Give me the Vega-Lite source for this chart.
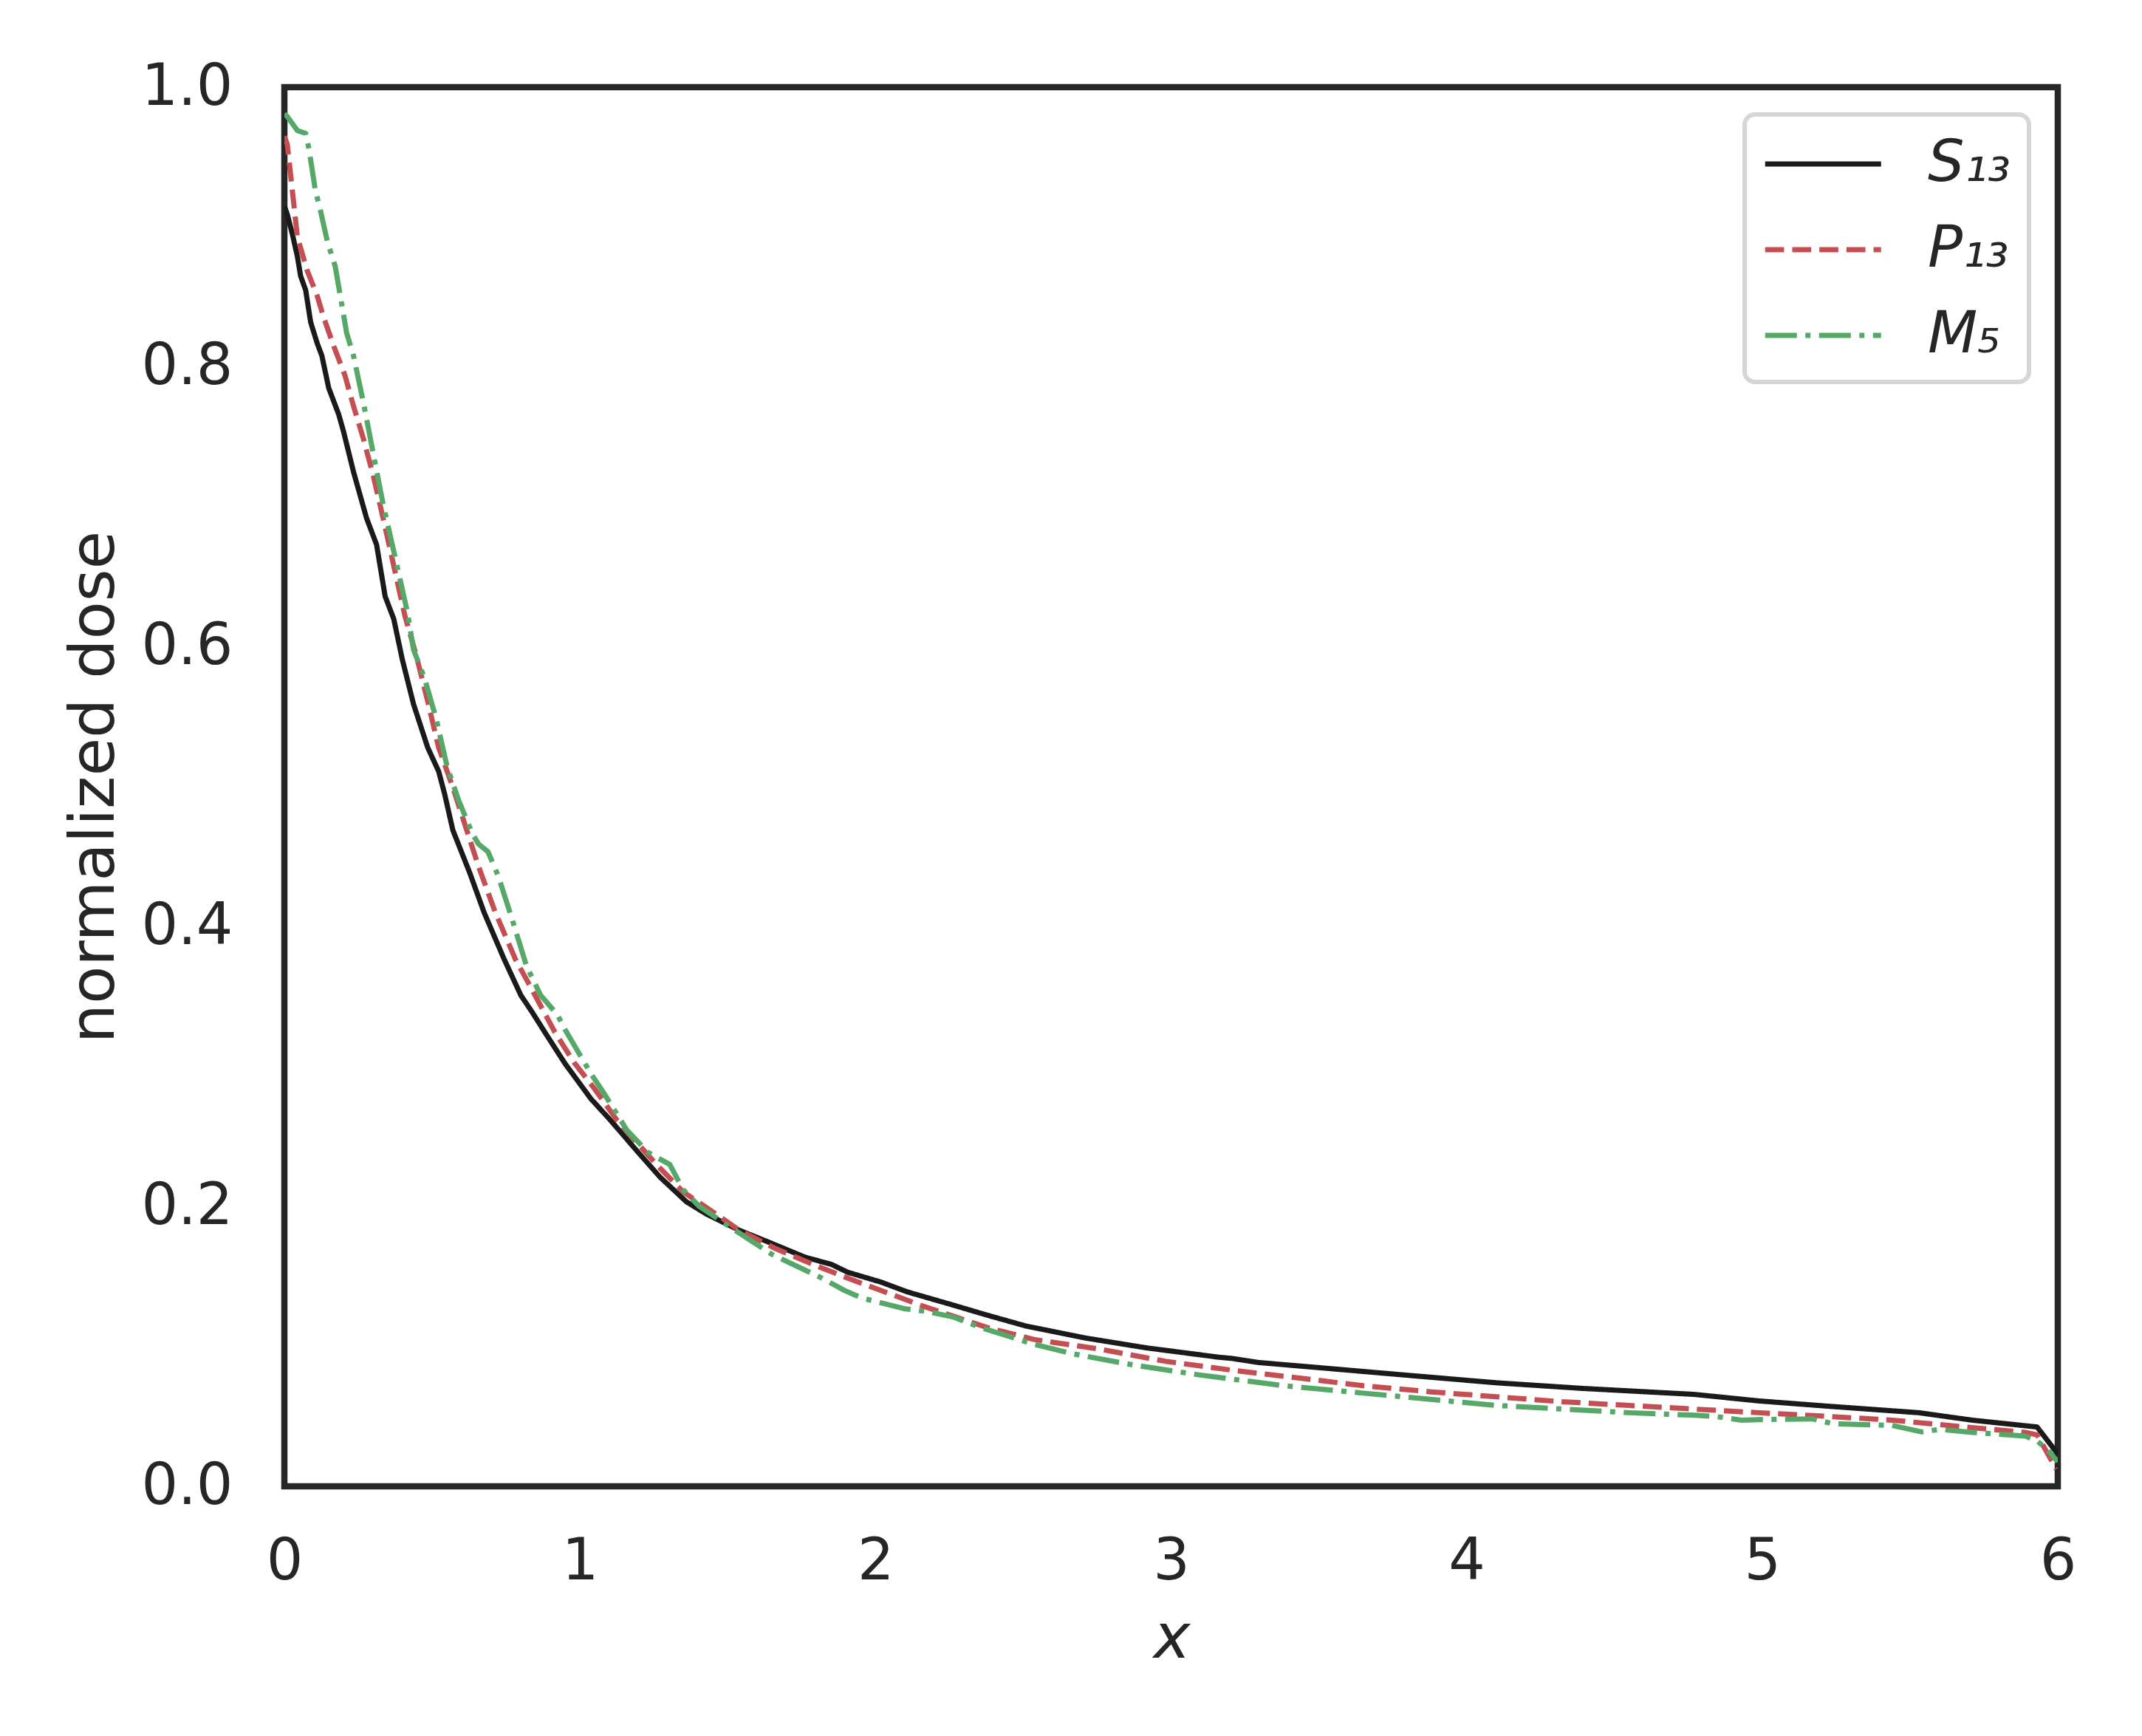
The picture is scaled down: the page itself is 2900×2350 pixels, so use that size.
{
  "$schema": "https://vega.github.io/schema/vega-lite/v6.json",
  "autosize": {"type": "none"},
  "padding": {"left": 385, "top": 118, "right": 114, "bottom": 338},
  "width": 2401,
  "height": 1894,
  "background": "white",
  "config": {
    "font": "DejaVu Sans",
    "view": {"stroke": "#262626", "strokeWidth": 8.5},
    "axis": {
      "grid": false, "ticks": false, "tickSize": 0, "domain": false,
      "labelColor": "#262626", "labelFont": "DejaVu Sans", "labelFontSize": 78,
      "titleColor": "#262626", "titleFont": "DejaVu Sans", "titleFontSize": 84, "titleFontWeight": "normal",
      "labelFlush": false, "labelOverlap": false
    },
    "legend": {
      "strokeColor": "#d6d6d6", "strokeWidth": 6, "cornerRadius": 14, "fillColor": "white"
    }
  },
  "data": {"values": [
    {"s":"S₁₃","x":0.0,"y":0.915},{"s":"S₁₃","x":0.01,"y":0.909},{"s":"S₁₃","x":0.027,"y":0.895},{"s":"S₁₃","x":0.044,"y":0.879},{"s":"S₁₃","x":0.055,"y":0.865},{"s":"S₁₃","x":0.072,"y":0.855},{"s":"S₁₃","x":0.089,"y":0.832},{"s":"S₁₃","x":0.111,"y":0.817},{"s":"S₁₃","x":0.127,"y":0.808},{"s":"S₁₃","x":0.15,"y":0.785},{"s":"S₁₃","x":0.184,"y":0.766},{"s":"S₁₃","x":0.2,"y":0.754},{"s":"S₁₃","x":0.234,"y":0.725},{"s":"S₁₃","x":0.278,"y":0.692},{"s":"S₁₃","x":0.312,"y":0.673},{"s":"S₁₃","x":0.341,"y":0.636},{"s":"S₁₃","x":0.37,"y":0.62},{"s":"S₁₃","x":0.399,"y":0.591},{"s":"S₁₃","x":0.437,"y":0.559},{"s":"S₁₃","x":0.485,"y":0.528},{"s":"S₁₃","x":0.522,"y":0.511},{"s":"S₁₃","x":0.542,"y":0.495},{"s":"S₁₃","x":0.57,"y":0.469},{"s":"S₁₃","x":0.628,"y":0.438},{"s":"S₁₃","x":0.676,"y":0.41},{"s":"S₁₃","x":0.743,"y":0.377},{"s":"S₁₃","x":0.8,"y":0.351},{"s":"S₁₃","x":0.838,"y":0.339},{"s":"S₁₃","x":0.886,"y":0.323},{"s":"S₁₃","x":0.95,"y":0.302},{"s":"S₁₃","x":1.037,"y":0.277},{"s":"S₁₃","x":1.104,"y":0.2615},{"s":"S₁₃","x":1.204,"y":0.237},{"s":"S₁₃","x":1.271,"y":0.221},{"s":"S₁₃","x":1.36,"y":0.2034},{"s":"S₁₃","x":1.427,"y":0.1947},{"s":"S₁₃","x":1.539,"y":0.183},{"s":"S₁₃","x":1.65,"y":0.1735},{"s":"S₁₃","x":1.761,"y":0.1638},{"s":"S₁₃","x":1.851,"y":0.1586},{"s":"S₁₃","x":1.906,"y":0.153},{"s":"S₁₃","x":2.018,"y":0.146},{"s":"S₁₃","x":2.107,"y":0.139},{"s":"S₁₃","x":2.263,"y":0.1295},{"s":"S₁₃","x":2.375,"y":0.1225},{"s":"S₁₃","x":2.508,"y":0.1146},{"s":"S₁₃","x":2.71,"y":0.106},{"s":"S₁₃","x":2.915,"y":0.099},{"s":"S₁₃","x":3.16,"y":0.0923},{"s":"S₁₃","x":3.206,"y":0.0914},{"s":"S₁₃","x":3.295,"y":0.0885},{"s":"S₁₃","x":3.54,"y":0.0841},{"s":"S₁₃","x":3.765,"y":0.08},{"s":"S₁₃","x":4.1,"y":0.074},{"s":"S₁₃","x":4.39,"y":0.07},{"s":"S₁₃","x":4.77,"y":0.0657},{"s":"S₁₃","x":4.99,"y":0.061},{"s":"S₁₃","x":5.22,"y":0.0573},{"s":"S₁₃","x":5.53,"y":0.0526},{"s":"S₁₃","x":5.71,"y":0.0473},{"s":"S₁₃","x":5.93,"y":0.0424},{"s":"S₁₃","x":5.995,"y":0.0245},{"s":"S₁₃","x":6.0,"y":0.022},
    {"s":"P₁₃","x":0.0,"y":0.965},{"s":"P₁₃","x":0.01,"y":0.959},{"s":"P₁₃","x":0.027,"y":0.926},{"s":"P₁₃","x":0.044,"y":0.893},{"s":"P₁₃","x":0.077,"y":0.869},{"s":"P₁₃","x":0.111,"y":0.851},{"s":"P₁₃","x":0.132,"y":0.836},{"s":"P₁₃","x":0.167,"y":0.815},{"s":"P₁₃","x":0.205,"y":0.794},{"s":"P₁₃","x":0.234,"y":0.772},{"s":"P₁₃","x":0.267,"y":0.749},{"s":"P₁₃","x":0.3,"y":0.723},{"s":"P₁₃","x":0.334,"y":0.692},{"s":"P₁₃","x":0.37,"y":0.658},{"s":"P₁₃","x":0.408,"y":0.622},{"s":"P₁₃","x":0.446,"y":0.594},{"s":"P₁₃","x":0.485,"y":0.561},{"s":"P₁₃","x":0.522,"y":0.528},{"s":"P₁₃","x":0.57,"y":0.4995},{"s":"P₁₃","x":0.6,"y":0.48},{"s":"P₁₃","x":0.657,"y":0.443},{"s":"P₁₃","x":0.714,"y":0.41},{"s":"P₁₃","x":0.781,"y":0.377},{"s":"P₁₃","x":0.848,"y":0.351},{"s":"P₁₃","x":0.914,"y":0.325},{"s":"P₁₃","x":0.98,"y":0.303},{"s":"P₁₃","x":1.048,"y":0.2845},{"s":"P₁₃","x":1.126,"y":0.2615},{"s":"P₁₃","x":1.259,"y":0.23},{"s":"P₁₃","x":1.349,"y":0.2105},{"s":"P₁₃","x":1.46,"y":0.1947},{"s":"P₁₃","x":1.539,"y":0.183},{"s":"P₁₃","x":1.661,"y":0.17},{"s":"P₁₃","x":1.795,"y":0.158},{"s":"P₁₃","x":1.928,"y":0.147},{"s":"P₁₃","x":2.04,"y":0.1383},{"s":"P₁₃","x":2.151,"y":0.1295},{"s":"P₁₃","x":2.263,"y":0.1216},{"s":"P₁₃","x":2.375,"y":0.1137},{"s":"P₁₃","x":2.535,"y":0.105},{"s":"P₁₃","x":2.76,"y":0.098},{"s":"P₁₃","x":2.98,"y":0.0894},{"s":"P₁₃","x":3.206,"y":0.083},{"s":"P₁₃","x":3.43,"y":0.0775},{"s":"P₁₃","x":3.65,"y":0.0719},{"s":"P₁₃","x":3.88,"y":0.0675},{"s":"P₁₃","x":4.1,"y":0.064},{"s":"P₁₃","x":4.32,"y":0.0605},{"s":"P₁₃","x":4.55,"y":0.0578},{"s":"P₁₃","x":4.77,"y":0.0552},{"s":"P₁₃","x":4.99,"y":0.0526},{"s":"P₁₃","x":5.22,"y":0.05},{"s":"P₁₃","x":5.44,"y":0.0473},{"s":"P₁₃","x":5.66,"y":0.0429},{"s":"P₁₃","x":5.89,"y":0.0386},{"s":"P₁₃","x":5.93,"y":0.0368},{"s":"P₁₃","x":5.995,"y":0.0123},
    {"s":"M₅","x":0.0,"y":0.981},{"s":"M₅","x":0.01,"y":0.979},{"s":"M₅","x":0.044,"y":0.969},{"s":"M₅","x":0.072,"y":0.967},{"s":"M₅","x":0.083,"y":0.956},{"s":"M₅","x":0.105,"y":0.926},{"s":"M₅","x":0.122,"y":0.912},{"s":"M₅","x":0.145,"y":0.89},{"s":"M₅","x":0.172,"y":0.872},{"s":"M₅","x":0.189,"y":0.851},{"s":"M₅","x":0.211,"y":0.824},{"s":"M₅","x":0.234,"y":0.808},{"s":"M₅","x":0.267,"y":0.775},{"s":"M₅","x":0.3,"y":0.739},{"s":"M₅","x":0.334,"y":0.702},{"s":"M₅","x":0.379,"y":0.66},{"s":"M₅","x":0.417,"y":0.624},{"s":"M₅","x":0.437,"y":0.598},{"s":"M₅","x":0.475,"y":0.577},{"s":"M₅","x":0.513,"y":0.549},{"s":"M₅","x":0.551,"y":0.514},{"s":"M₅","x":0.59,"y":0.49},{"s":"M₅","x":0.637,"y":0.466},{"s":"M₅","x":0.657,"y":0.459},{"s":"M₅","x":0.689,"y":0.4535},{"s":"M₅","x":0.724,"y":0.436},{"s":"M₅","x":0.771,"y":0.405},{"s":"M₅","x":0.819,"y":0.372},{"s":"M₅","x":0.867,"y":0.351},{"s":"M₅","x":0.924,"y":0.337},{"s":"M₅","x":0.948,"y":0.327},{"s":"M₅","x":1.037,"y":0.295},{"s":"M₅","x":1.081,"y":0.281},{"s":"M₅","x":1.159,"y":0.2545},{"s":"M₅","x":1.231,"y":0.2386},{"s":"M₅","x":1.304,"y":0.23},{"s":"M₅","x":1.349,"y":0.212},{"s":"M₅","x":1.404,"y":0.2},{"s":"M₅","x":1.505,"y":0.1858},{"s":"M₅","x":1.65,"y":0.1657},{"s":"M₅","x":1.817,"y":0.149},{"s":"M₅","x":1.895,"y":0.14},{"s":"M₅","x":1.951,"y":0.1348},{"s":"M₅","x":2.096,"y":0.127},{"s":"M₅","x":2.173,"y":0.125},{"s":"M₅","x":2.263,"y":0.121},{"s":"M₅","x":2.353,"y":0.1137},{"s":"M₅","x":2.535,"y":0.1016},{"s":"M₅","x":2.67,"y":0.0946},{"s":"M₅","x":2.87,"y":0.0868},{"s":"M₅","x":3.09,"y":0.0798},{"s":"M₅","x":3.38,"y":0.0719},{"s":"M₅","x":3.65,"y":0.0666},{"s":"M₅","x":4.1,"y":0.0578},{"s":"M₅","x":4.55,"y":0.0526},{"s":"M₅","x":4.77,"y":0.0508},{"s":"M₅","x":4.84,"y":0.05},{"s":"M₅","x":4.93,"y":0.0473},{"s":"M₅","x":4.99,"y":0.0477},{"s":"M₅","x":5.17,"y":0.0482},{"s":"M₅","x":5.24,"y":0.0447},{"s":"M₅","x":5.44,"y":0.0435},{"s":"M₅","x":5.54,"y":0.0389},{"s":"M₅","x":5.6,"y":0.0407},{"s":"M₅","x":5.71,"y":0.0386},{"s":"M₅","x":5.89,"y":0.0359},{"s":"M₅","x":5.93,"y":0.0324},{"s":"M₅","x":5.965,"y":0.0263},{"s":"M₅","x":6.0,"y":0.0175}
  ]},
  "mark": {"type": "line", "strokeWidth": 7, "strokeCap": "butt", "strokeJoin": "round", "clip": true},
  "encoding": {
    "x": {"field": "x", "type": "quantitative",
      "scale": {"domain": [0, 6], "nice": false, "zero": false},
      "axis": {"values": [0,1,2,3,4,5,6], "format": "d", "labelPadding": 63,
        "title": "x", "titleFontStyle": "italic", "titleX": 1201, "titleY": 231, "titleBaseline": "alphabetic", "titleAlign": "center", "titleAngle": 0}},
    "y": {"field": "y", "type": "quantitative",
      "scale": {"domain": [0, 1], "nice": false},
      "axis": {"values": [0,0.2,0.4,0.6,0.8,1.0], "format": ".1f", "labelPadding": 70,
        "title": "normalized dose", "titleX": -232, "titleY": 947, "titleBaseline": "alphabetic", "titleAlign": "center", "titleAngle": 270}},
    "color": {"field": "s", "type": "nominal",
      "scale": {"domain": ["S₁₃","P₁₃","M₅"], "range": ["#1a1a1a","#c44e52","#55a868"]},
      "legend": {"title": null, "orient": "none", "legendX": 1977, "legendY": 37,
        "symbolType": "M-1,0H3", "symbolSize": 6162, "symbolStrokeWidth": 7,
        "labelFontSize": 78, "labelFontStyle": "italic", "labelColor": "#262626", "labelFont": "DejaVu Sans",
        "labelOffset": 138, "rowPadding": 34, "padding": 24}},
    "strokeDash": {"field": "s", "type": "nominal",
      "scale": {"domain": ["S₁₃","P₁₃","M₅"], "range": [[1,0],[25.7,11],[43,11.5,7,11.5]]},
      "legend": {"title": null, "orient": "none", "legendX": 1977, "legendY": 37,
        "symbolType": "M-1,0H3", "symbolSize": 6162, "symbolStrokeWidth": 7,
        "labelFontSize": 78, "labelFontStyle": "italic", "labelColor": "#262626", "labelFont": "DejaVu Sans",
        "labelOffset": 138, "rowPadding": 34, "padding": 24}}
  }
}
